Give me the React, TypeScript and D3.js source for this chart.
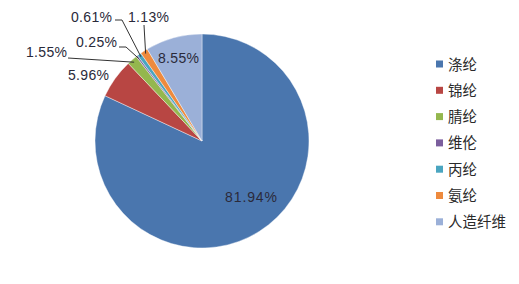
import React from "react";
import * as d3 from "d3";

const categories = ["涤纶", "锦纶", "腈纶", "维伦", "丙纶", "氨纶", "人造纤维"];
const values = [81.94, 5.96, 1.55, 0.25, 0.61, 1.13, 8.55];
const labels = ["81.94%", "5.96%", "1.55%", "0.25%", "0.61%", "1.13%", "8.55%"];
const colors = ["#4A76AE", "#B84643", "#94B74E", "#7B5E9D", "#4AA5C0", "#EE8A3D", "#9BB0D8"];

// layout: label anchor (text start x, baseline y) and leader bend points
const labelLayout: { x: number; y: number; leader: [number, number][] | null }[] = [
  { x: 225, y: 202, leader: null },
  { x: 68, y: 80, leader: null },
  { x: 26, y: 57, leader: [[68, 58]] },
  { x: 76, y: 46.5, leader: [[119, 47], [126, 47]] },
  { x: 71, y: 21.5, leader: [[115, 20], [122, 20]] },
  { x: 128, y: 21.5, leader: [[144, 25]] },
  { x: 158, y: 63, leader: null },
];

const W = 519, H = 284;
const cx = 202, cy = 141, r = 107;

export default function App() {
  const pie = d3.pie<number>().sort(null).value((d) => d);
  const arcs = pie(values);
  const arc = d3.arc<d3.PieArcDatum<number>>().innerRadius(0).outerRadius(r);
  const font = "'Liberation Sans', Arial, sans-serif";
  const line = d3.line();
  return (
    <svg width={W} height={H} style={{ position: "absolute", left: 0, top: 0 }}>
      <rect width={W} height={H} fill="#fff" />
      <g transform={`translate(${cx},${cy})`}>
        {arcs.map((a, i) => (
          <path key={i} d={arc(a) || ""} fill={colors[i]} stroke="#fff" strokeWidth={0.4} />
        ))}
      </g>
      {arcs.map((a, i) => {
        const L = labelLayout[i];
        if (!L.leader) return null;
        const mid = (a.startAngle + a.endAngle) / 2;
        const ex = cx + (r - 3) * Math.sin(mid);
        const ey = cy - (r - 3) * Math.cos(mid);
        const pts: [number, number][] = [...L.leader, [ex, ey]];
        return <path key={"l" + i} d={line(pts) || ""} fill="none" stroke="#333" strokeWidth={1} />;
      })}
      {labels.map((t, i) => (
        <text key={"t" + i} x={labelLayout[i].x} y={labelLayout[i].y} fontFamily={font} fontSize={14} fill="#2a2a3a" textLength={i === 0 ? 52 : 41} lengthAdjust="spacing">
          {t}
        </text>
      ))}
      {categories.map((c, i) => (
        <g key={"lg" + i} transform={`translate(436,${64 + i * 26.3})`}>
          <rect x={0} y={-3.5} width={7} height={7} fill={colors[i]} />
          <text x={12} y={5.5} fontFamily="'Noto Sans CJK SC', sans-serif" fontSize={14.5} fill="#2a2a2a">
            {c}
          </text>
        </g>
      ))}
    </svg>
  );
}
